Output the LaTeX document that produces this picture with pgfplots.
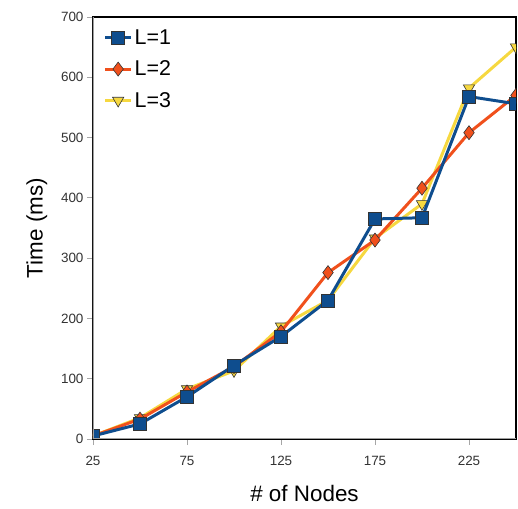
\documentclass[border=0pt]{standalone}
\usepackage{pgfplots}
\pgfplotsset{compat=1.18}
\usepackage{fontspec}
\setmainfont{Liberation Sans}
\definecolor{cblue}{HTML}{0E4D8E}
\definecolor{corange}{HTML}{F0501C}
\definecolor{cyellow}{HTML}{F6D840}
\definecolor{tickgray}{HTML}{333333}
\begin{document}
\begin{tikzpicture}[x=1bp,y=1bp]
\begin{axis}[
  scale only axis,
  width=423bp, height=422bp,
  xmin=25, xmax=250, ymin=0, ymax=700,
  xtick={25,75,125,175,225},
  ytick={0,100,...,700},
  tick pos=left,
  tick align=outside,
  tick style={gray!70, line width=0.8pt},
  major tick length=6bp,
  axis line style={black, line width=1.6pt},
  tick label style={font=\fontsize{13.5}{14}\selectfont, text=tickgray},
  xticklabel style={yshift=-8bp},
  /pgf/number format/assume math mode=true,
  xlabel={\# of Nodes}, ylabel={Time (ms)},
  label style={font=\fontsize{22.5}{24}\selectfont},
  xlabel style={yshift=-12bp},
  ylabel style={yshift=7bp},
  clip marker paths=true,
  reverse legend,
  legend style={at={(0.02,0.98)}, anchor=north west, draw=none, fill=none,
    font=\fontsize{21.5}{23}\selectfont, row sep=11bp, inner sep=2bp},
  legend cell align=left,
  legend image code/.code={
    \draw[mark repeat=2,mark phase=2] plot coordinates {(0bp,0bp) (13bp,0bp) (26bp,0bp)};},
]
\addplot[color=cyellow, line width=3pt, mark=triangle*, mark size=6.5bp,
  mark options={rotate=180, fill=cyellow, draw=black!80, line width=0.6pt}]
  coordinates {(25,5) (50,35) (75,83) (100,113) (125,187) (150,230) (175,333) (200,390) (225,582) (250,650)};
\addlegendentry{L=3}
\addplot[color=corange, line width=3pt, mark=diamond*, mark size=7bp,
  mark options={fill=corange, draw=black!80, line width=0.6pt}]
  coordinates {(25,5) (50,33) (75,78) (100,120) (125,178) (150,276) (175,330) (200,416) (225,508) (250,570)};
\addlegendentry{L=2}
\addplot[color=cblue, line width=3pt, mark=square*, mark size=6.5bp,
  mark options={fill=cblue, draw=black!80, line width=0.6pt}]
  coordinates {(25,5) (50,25) (75,70) (100,122) (125,170) (150,230) (175,365) (200,367) (225,568) (250,556)};
\addlegendentry{L=1}
\draw[gray!75, line width=2.4pt] (rel axis cs:0,1) -- (rel axis cs:0,0) -- (rel axis cs:1,0);
\end{axis}
\pgfresetboundingbox
\path (current axis.south west) ++(-93bp,-70bp) coordinate (bbsw);
\path (current axis.north east) ++(2bp,17bp) coordinate (bbne);
\useasboundingbox (bbsw) rectangle (bbne);
\end{tikzpicture}
\end{document}
